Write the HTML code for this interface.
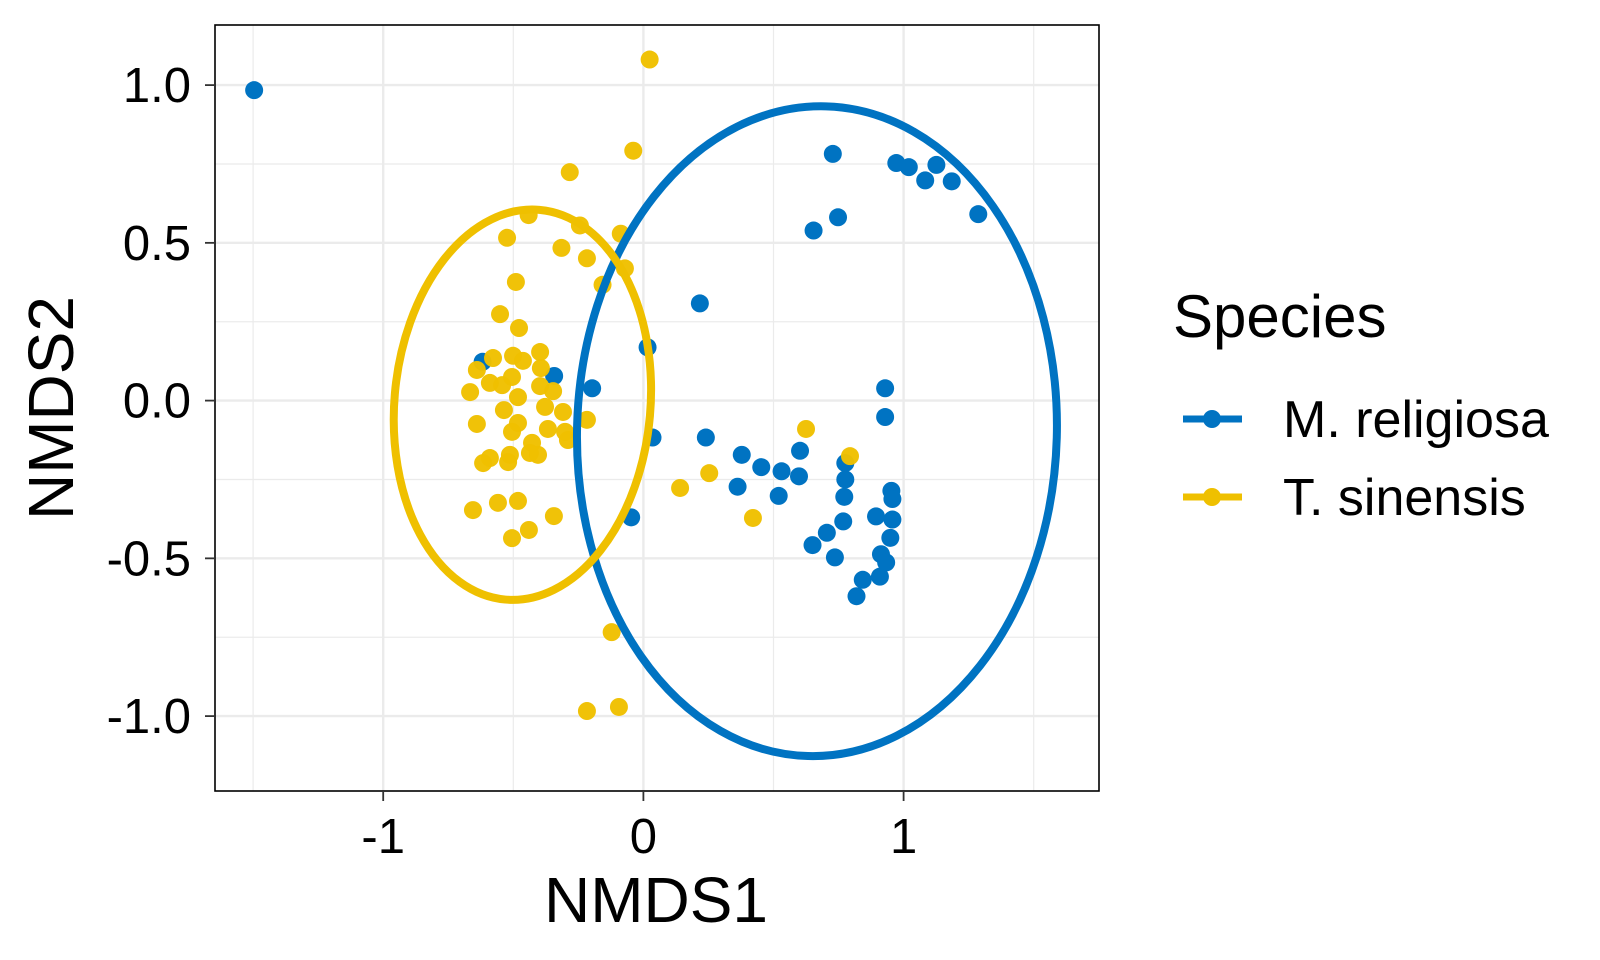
<!DOCTYPE html>
<html><head><meta charset="utf-8"><style>
body{margin:0;background:#fff;}
svg{display:block;font-family:"Liberation Sans",Arial,sans-serif;}
</style></head><body>
<svg id="chart" width="1600" height="960" viewBox="0 0 1600 960" xmlns="http://www.w3.org/2000/svg">
<g id="grid"></g>
<g id="marks"></g>
<g id="ells"></g>
<rect x="215" y="25" width="884" height="766" fill="none" stroke="#000" stroke-width="1.6"/>
<g id="axes"></g>
<text x="656" y="922" font-size="64" text-anchor="middle">NMDS1</text>
<text x="0" y="0" font-size="64" text-anchor="middle" transform="translate(73,408) rotate(-90)">NMDS2</text>
<g>
<text x="1173" y="337" font-size="60">Species</text>
<g><line x1="1183" y1="419" x2="1242" y2="419" stroke="#0073C2" stroke-width="7"/><circle cx="1212" cy="419" r="9" fill="#0073C2"/><text x="1283" y="437" font-size="52">M. religiosa</text></g>
<g><line x1="1183" y1="497" x2="1242" y2="497" stroke="#EFC000" stroke-width="7"/><circle cx="1212" cy="497" r="9" fill="#EFC000"/><text x="1283" y="515" font-size="52">T. sinensis</text></g>
</g>
</svg>
<script>
const xTicks=[-1,0,1];
const xTickLabels=["-1","0","1"];
const yTicks=[1.0,0.5,0.0,-0.5,-1.0];
const yTickLabels=["1.0","0.5","0.0","-0.5","-1.0"];
const xMinor=[-1.5,-0.5,0.5,1.5];
const yMinor=[0.75,0.25,-0.25,-0.75];
const blueX=[-1.496,0.728,0.972,1.020,1.126,1.083,1.185,1.287,0.748,0.654,0.217,0.016,-0.618,-0.343,-0.197,0.929,0.929,0.035,0.240,0.378,0.453,0.531,0.602,0.598,0.362,0.520,0.776,0.776,0.772,0.953,0.957,-0.047,0.894,0.957,0.768,0.705,0.949,0.650,0.736,0.913,0.933,0.843,0.909,0.819];
const blueY=[0.984,0.782,0.753,0.740,0.747,0.698,0.695,0.591,0.581,0.539,0.308,0.169,0.123,0.078,0.039,0.039,-0.052,-0.117,-0.117,-0.172,-0.211,-0.224,-0.159,-0.240,-0.273,-0.302,-0.198,-0.250,-0.305,-0.286,-0.312,-0.370,-0.367,-0.377,-0.383,-0.419,-0.435,-0.458,-0.497,-0.487,-0.513,-0.568,-0.558,-0.620];
const yellowX=[0.024,-0.039,-0.283,-0.441,-0.244,-0.087,-0.524,-0.315,-0.217,-0.071,-0.157,-0.490,-0.551,-0.478,-0.578,-0.501,-0.463,-0.397,-0.394,-0.640,-0.666,-0.590,-0.543,-0.505,-0.482,-0.397,-0.347,-0.536,-0.378,-0.309,-0.217,-0.640,-0.482,-0.505,-0.367,-0.301,-0.290,-0.428,-0.436,-0.405,-0.590,-0.616,-0.513,-0.520,-0.655,-0.559,-0.482,-0.344,-0.440,-0.505,-0.122,-0.217,-0.094,0.141,0.253,0.421,0.625,0.794];
const yellowY=[1.081,0.792,0.724,0.588,0.555,0.529,0.516,0.484,0.451,0.419,0.367,0.376,0.274,0.230,0.135,0.142,0.126,0.154,0.103,0.097,0.027,0.056,0.049,0.075,0.011,0.046,0.030,-0.030,-0.020,-0.036,-0.061,-0.074,-0.071,-0.099,-0.090,-0.099,-0.125,-0.134,-0.166,-0.172,-0.182,-0.198,-0.172,-0.195,-0.347,-0.324,-0.318,-0.366,-0.410,-0.436,-0.734,-0.984,-0.971,-0.277,-0.230,-0.372,-0.090,-0.176];
// ellipse params: center x, center y, semi-axis x, semi-axis y (data units), tilt degrees
const ellBlue=[0.667,-0.097,0.922,1.030,1.6];
const ellYellow=[-0.465,-0.013,0.492,0.620,5];

const NS="http://www.w3.org/2000/svg";
const X0=643.4,XS=260.2,Y0=400.6,YS=315.5,L=215,R=1099,T=25,B=791;
const sx=v=>X0+v*XS, sy=v=>Y0-v*YS;
function mk(tag,attrs,parent){const e=document.createElementNS(NS,tag);for(const k in attrs)e.setAttribute(k,attrs[k]);parent.appendChild(e);return e;}
const grid=document.getElementById('grid'),marks=document.getElementById('marks'),ells=document.getElementById('ells'),axes=document.getElementById('axes');
xMinor.forEach(v=>{const e=mk('line',{x1:sx(v),x2:sx(v),y1:T,y2:B,stroke:'#ebebeb','stroke-width':1.2},grid);

});
yMinor.forEach(v=>{const e=mk('line',{x1:L,x2:R,y1:sy(v),y2:sy(v),stroke:'#ebebeb','stroke-width':1.2},grid);

});
xTicks.forEach((v,i)=>{const e=mk('line',{x1:sx(v),x2:sx(v),y1:T,y2:B,stroke:'#ebebeb','stroke-width':2.4},grid);


const t=mk('line',{x1:sx(v),x2:sx(v),y1:B,y2:B+10,stroke:'#333','stroke-width':1.8},axes);


const l=mk('text',{x:sx(v),y:853,'font-size':49,'text-anchor':'middle'},axes);l.textContent=xTickLabels[i];

});
yTicks.forEach((v,i)=>{const e=mk('line',{x1:L,x2:R,y1:sy(v),y2:sy(v),stroke:'#ebebeb','stroke-width':2.4},grid);


const t=mk('line',{x1:L-10,x2:L,y1:sy(v),y2:sy(v),stroke:'#333','stroke-width':1.8},axes);


const l=mk('text',{x:L-24,y:sy(v)+17,'font-size':49,'text-anchor':'end'},axes);l.textContent=yTickLabels[i];

});
blueX.forEach((v,i)=>{const c=mk('circle',{cx:sx(v),cy:sy(blueY[i]),r:9,fill:'#0073C2'},marks);

});
yellowX.forEach((v,i)=>{const c=mk('circle',{cx:sx(v),cy:sy(yellowY[i]),r:9,fill:'#EFC000','fill-opacity':0.97},marks);

});
function ell(p,col,name){const cx=sx(p[0]),cy=sy(p[1]);const e=mk('ellipse',{cx:cx,cy:cy,rx:p[2]*XS,ry:p[3]*YS,fill:'none',stroke:col,'stroke-width':8,transform:`rotate(${p[4]} ${cx} ${cy})`},ells);

}
ell(ellBlue,'#0073C2','ellipse-m-religiosa');
ell(ellYellow,'#EFC000','ellipse-t-sinensis');
</script>
</body></html>
